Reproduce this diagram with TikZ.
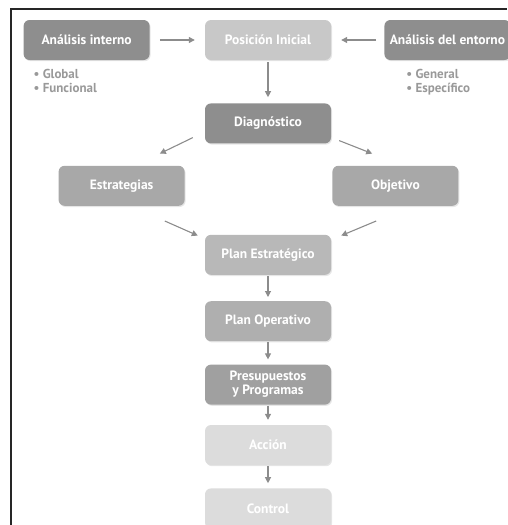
\documentclass[tikz,border=0pt]{standalone}
\usepackage{fontspec}
\setmainfont{PT Sans}
\usepackage{tikz}
\usetikzlibrary{arrows.meta, positioning, shadows}

\definecolor{boxdark}{HTML}{8E8E8E}
\definecolor{boxmid}{HTML}{A8A8A8}
\definecolor{boxplan}{HTML}{B8B8B8}
\definecolor{boxlight}{HTML}{C8C8C8}
\definecolor{boxpale}{HTML}{DCDCDC}
\definecolor{arrowgray}{HTML}{8C8C8C}
\definecolor{notegray}{HTML}{999999}

\begin{document}
\begin{tikzpicture}[
    x=1pt, y=1pt,
    stage/.style={rectangle, rounded corners=6pt, minimum width=126pt,
                  minimum height=40pt, inner sep=2pt, text=white, align=center,
                  font=\fontsize{13.5}{14}\selectfont\bfseries,
                  drop shadow={shadow xshift=1pt, shadow yshift=-1.2pt, opacity=0.2}},
    note/.style={font=\fontsize{13}{14}\selectfont\bfseries, text=notegray,
                 align=left, inner sep=0pt},
    flow/.style={-{Triangle[length=6pt, width=6pt]}, line width=1.1pt, arrowgray}
]
\useasboundingbox (0,0) rectangle (507,-525);

% Frame
\draw[line width=1.4pt, black!85] (11,-525) -- (11,-9) -- (507,-9);

% Top row
\node[stage, fill=boxlight] (pos) at (268,-40) {Posición Inicial};
\node[stage, fill=boxdark, left=55pt of pos] (interno) {Análisis interno};
\node[stage, fill=boxdark, right=53pt of pos] (entorno) {Análisis del entorno};

% Sub-items
\node[note, below right=9pt and 10pt of interno.south west] (intnote)
    {• Global\\• Funcional};
\node[note, below right=9pt and 22pt of entorno.south west] (entnote)
    {• General\\• Específico};

% Diagnosis and branches
\node[stage, fill=boxdark, below=43pt of pos] (diag) {Diagnóstico};
\node[stage, fill=boxmid, below left=22pt and 20pt of diag] (estr) {Estrategias};
\node[stage, fill=boxmid, below right=22pt and 1pt of diag] (obj) {Objetivo};

% Main chain
\node[stage, fill=boxplan, below=91pt of diag] (planE) {Plan Estratégico};
\node[stage, fill=boxplan!95!black, below=26pt of planE] (planO) {Plan Operativo};
\node[stage, fill=boxmid!95!black, below=23pt of planO] (presup) {Presupuestos\\y Programas};
\node[stage, fill=boxpale, below=20pt of presup] (accion) {Acción};
\node[stage, fill=boxpale, below=23pt of accion] (control) {Control};

% Horizontal inputs
\draw[flow, shorten <=10pt, shorten >=10pt] (interno) -- (pos);
\draw[flow, shorten <=8pt, shorten >=10pt] (entorno) -- (pos);

% Vertical steps
\draw[flow, shorten <=2pt, shorten >=6pt] (pos) -- (diag);
\draw[flow, shorten <=1pt, shorten >=4pt] (planE) -- (planO);
\draw[flow, shorten <=1pt, shorten >=5pt] (planO) -- (presup);
\draw[flow, shorten <=1pt, shorten >=5pt] (presup) -- (accion);
\draw[flow, shorten <=1pt, shorten >=5pt] (accion) -- (control);

% Diagonal branches
\draw[flow] ([shift={(-12,6)}]diag.south west) -- ([shift={(-25,12)}]estr.north east);
\draw[flow] ([shift={(8,3)}]diag.south east) -- ([shift={(40,12)}]obj.north west);
\draw[flow] ([shift={(-20,-15)}]estr.south east) -- ([shift={(-7,-1)}]planE.north west);
\draw[flow] ([shift={(44,-15)}]obj.south west) -- ([shift={(10,-1)}]planE.north east);
\end{tikzpicture}
\end{document}
